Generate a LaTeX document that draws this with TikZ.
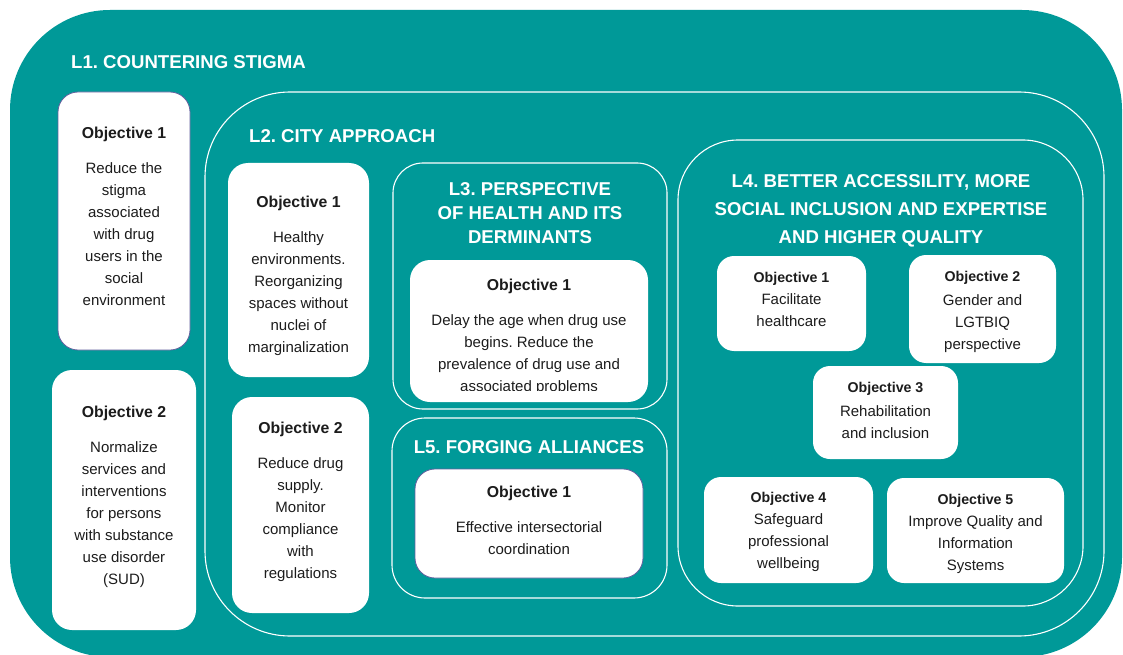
\documentclass[tikz,border=0pt]{standalone}
\usepackage{fontspec}
\setmainfont{Liberation Sans}
\usetikzlibrary{positioning}
\frenchspacing

\definecolor{lineteal}{RGB}{0,153,152}
\definecolor{objedge}{RGB}{98,96,158}
\definecolor{bodytext}{RGB}{28,28,28}

\begin{document}
\begin{tikzpicture}[
    x=1pt, y=-1pt,
    lane/.style={draw=white, line width=1.1pt},
    title/.style={text=white, font=\fontsize{18.6}{24}\selectfont\bfseries, align=center, inner sep=0pt},
    obj/.style={fill=white, rounded corners=20pt, inner sep=0pt},
    objsm/.style={obj, rounded corners=17pt},
    edged/.style={draw=objedge, line width=0.8pt},
    objtxt/.style={align=center, inner sep=0pt, text=bodytext, font=\fontsize{15}{22}\selectfont},
    head/.style={font=\fontsize{15.8}{22}\selectfont\bfseries},
    headsm/.style={font=\fontsize{14.2}{22}\selectfont\bfseries}
]
\useasboundingbox (0,0) rectangle (1123,655);

% Lines of action
\fill[lineteal, rounded corners=100pt] (10,10) rectangle (1122,657);
\draw[lane, rounded corners=85pt] (205,92) rectangle (1104,636);
\draw[lane, rounded corners=30pt] (393,163) rectangle (667,409);
\draw[lane, rounded corners=33pt] (392,418) rectangle (667,598);
\draw[lane, rounded corners=60pt] (678,140) rectangle (1083,606);

% Titles
\node[title, anchor=west] (t1) at (71,62) {L1. COUNTERING STIGMA};
\node[title, anchor=west] (t2) at (249,136) {L2. CITY APPROACH};
\node[title] (t3) at (530,213) {L3. PERSPECTIVE\\OF HEALTH AND ITS\\DERMINANTS};
\node[title, font=\fontsize{18.6}{28}\selectfont\bfseries] (t4) at (881,211) {L4. BETTER ACCESSILITY, MORE\\SOCIAL INCLUSION AND EXPERTISE\\AND HIGHER QUALITY};
\node[title] (t5) at (529,447) {L5. FORGING ALLIANCES};

% Objective boxes
\node[obj, edged, minimum width=132pt, minimum height=258pt] (l1o1) at (124,221) {};
\node[obj, minimum width=144pt, minimum height=260pt] (l1o2) at (124,500) {};
\node[obj, minimum width=141pt, minimum height=214pt] (l2o1) at (298.5,270) {};
\node[obj, minimum width=137pt, minimum height=216pt] (l2o2) at (300.5,505) {};
\node[obj, minimum width=238pt, minimum height=142pt] (l3o1) at (529,331) {};
\node[obj, edged, minimum width=228pt, minimum height=109pt] (l5o1) at (529,523.5) {};
\node[objsm, minimum width=149pt, minimum height=95pt] (l4o1) at (791.5,303.5) {};
\node[objsm, minimum width=147pt, minimum height=108pt] (l4o2) at (982.5,309) {};
\node[objsm, minimum width=145pt, minimum height=93pt] (l4o3) at (885.5,412.5) {};
\node[objsm, minimum width=169pt, minimum height=106pt] (l4o4) at (788.5,530) {};
\node[objsm, minimum width=177pt, minimum height=105pt] (l4o5) at (975.5,530.5) {};

% Objective texts
\node[objtxt] (l1o1txt) at ([yshift=5pt]l1o1.center)
    {{\bfseries\fontsize{15.8}{22}\selectfont Objective 1}\\[13pt]Reduce the\\stigma\\associated\\with drug\\users in the\\social\\environment};
\node[objtxt] (l1o2txt) at ([yshift=3pt]l1o2.center)
    {{\bfseries\fontsize{15.8}{22}\selectfont Objective 2}\\[13pt]Normalize\\services and\\interventions\\for persons\\with substance\\use disorder\\(SUD)};
\node[objtxt] (l2o1txt) at ([yshift=-6pt]l2o1.center)
    {{\bfseries\fontsize{15.8}{22}\selectfont Objective 1}\\[13pt]Healthy\\environments.\\Reorganizing\\spaces without\\nuclei of\\marginalization};
\node[objtxt] (l2o2txt) at ([yshift=3pt]l2o2.center)
    {{\bfseries\fontsize{15.8}{22}\selectfont Objective 2}\\[13pt]Reduce drug\\supply.\\Monitor\\compliance\\with\\regulations};
% the last line runs past the box edge
\begin{scope}
\clip (l3o1.north west) rectangle ([yshift=12pt]l3o1.south east);
\node[objtxt] (l3o1txt) at ([yshift=-6pt]l3o1.center)
    {{\bfseries\fontsize{15.8}{22}\selectfont Objective 1}\\[13pt]Delay the age when drug use\\begins. Reduce the\\prevalence of drug use and\\associated problems};
\end{scope}
\node[objtxt] (l5o1txt) at ([yshift=3pt]l5o1.center)
    {{\bfseries\fontsize{15.8}{22}\selectfont Objective 1}\\[13pt]Effective intersectorial\\coordination};
\node[objtxt] (l4o1txt) at ([yshift=4pt]l4o1.center)
    {{\bfseries\fontsize{14.2}{22}\selectfont Objective 1}\\Facilitate\\healthcare};
\node[objtxt] (l4o2txt) at ([yshift=-3pt]l4o2.center)
    {{\bfseries\fontsize{14.2}{22}\selectfont Objective 2}\\[2pt]Gender and\\LGTBIQ\\perspective};
\node[objtxt] (l4o3txt) at ([yshift=2pt]l4o3.center)
    {{\bfseries\fontsize{14.2}{22}\selectfont Objective 3}\\[2pt]Rehabilitation\\and inclusion};
\node[objtxt] (l4o4txt) at ([yshift=-2pt]l4o4.center)
    {{\bfseries\fontsize{14.2}{22}\selectfont Objective 4}\\Safeguard\\professional\\wellbeing};
\node[objtxt] (l4o5txt) at ([yshift=-3pt]l4o5.center)
    {{\bfseries\fontsize{14.2}{22}\selectfont Objective 5}\\Improve Quality and\\Information\\Systems};

\end{tikzpicture}
\end{document}
